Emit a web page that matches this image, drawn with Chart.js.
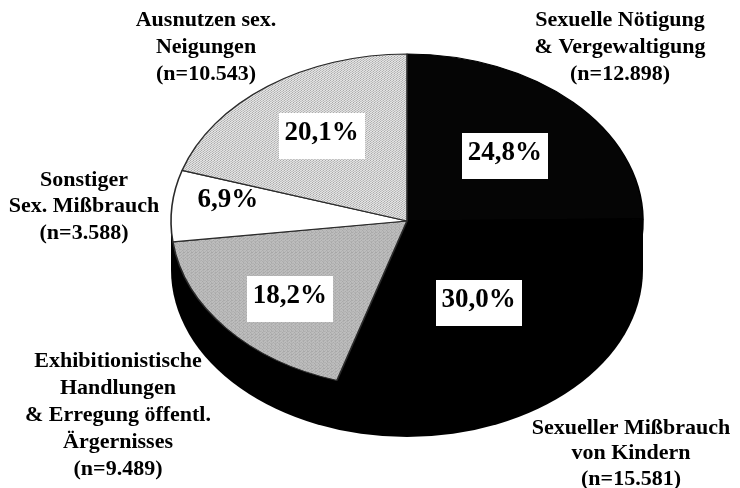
<!DOCTYPE html>
<html>
<head>
<meta charset="utf-8">
<script src="https://cdn.jsdelivr.net/npm/chart.js@4/dist/chart.umd.min.js"></script>
<style>
  html, body { margin: 0; padding: 0; background: #ffffff; }
  #c { display: block; }
</style>
</head>
<body>
<canvas id="c" width="740" height="488"></canvas>
<script>
// ---- data ----
const categories = [
  ['Sexuelle Nötigung', '& Vergewaltigung'],
  ['Sexueller Mißbrauch', 'von Kindern'],
  ['Exhibitionistische', 'Handlungen', '& Erregung öffentl.', 'Ärgernisses'],
  ['Sonstiger', 'Sex. Mißbrauch'],
  ['Ausnutzen sex.', 'Neigungen']
];
const percents = [24.8, 30.0, 18.2, 6.9, 20.1];
const counts = [12898, 15581, 9489, 3588, 10543];

// ---- styles / layout ----
const FONT = '"Liberation Serif", "Times New Roman", "DejaVu Serif", serif';
const CENTER_Y = 221;          // screen y of pie centre
const TILT = 167 / 236;        // vertical squash of the pie face
const DEPTH = 49;              // visible thickness of the 3D side
const RADIUS = 236;
const labelRadius = [0.58, 0.56, 0.67, 0.77, 0.64];
const labelAngleShift = [1, 3.9, -2.2, 4.3, 1.8];   // degrees
const labelBox = [true, true, true, false, true];
const outerLabelPos = [
  { x: 620, y: 20, dy: 27 },
  { x: 631, y: 428, dy: 25.5 },
  { x: 118, y: 361, dy: 27.2 },
  { x: 84,  y: 180, dy: 26.5 },
  { x: 206, y: 20, dy: 27 }
];

function makePattern(bg, fg, size, dots) {
  const p = document.createElement('canvas');
  p.width = size; p.height = size;
  const g = p.getContext('2d');
  g.fillStyle = bg; g.fillRect(0, 0, size, size);
  g.fillStyle = fg;
  dots.forEach(d => g.fillRect(d[0], d[1], 1, 1));
  return document.getElementById('c').getContext('2d').createPattern(p, 'repeat');
}
const dottedFill = makePattern('#e4e4e4', '#a4a4a4', 3, [[0, 0], [2, 1], [1, 2]]);
const greyFill = makePattern('#bdbdbd', '#a6a6a6', 4, [[0, 0], [2, 1], [1, 3], [3, 2], [3, 0]]);

function fmtCount(n) {
  return String(n).replace(/\B(?=(\d{3})+(?!\d))/g, '.');
}

const tiltPlugin = {
  id: 'tilt3d',
  beforeDatasetsDraw(chart) {
    const ctx = chart.ctx;
    const arc = chart.getDatasetMeta(0).data[0];
    if (!arc) return;
    const cx = arc.x, cy = arc.y, r = arc.outerRadius;
    ctx.save();
    ctx.translate(cx, CENTER_Y);
    ctx.scale(1, TILT);
    ctx.translate(-cx, -cy);
    // 3D side of the pie
    const d = DEPTH / TILT;
    ctx.fillStyle = '#000000';
    ctx.beginPath();
    ctx.arc(cx, cy + d, r, 0, Math.PI * 2);
    ctx.fill();
    ctx.fillRect(cx - r, cy, 2 * r, d);
  },
  afterDatasetsDraw(chart) {
    const ctx = chart.ctx;
    ctx.restore();
    const meta = chart.getDatasetMeta(0);
    // percentage labels
    ctx.save();
    ctx.font = 'bold 27px ' + FONT;
    ctx.textAlign = 'center';
    ctx.textBaseline = 'middle';
    meta.data.forEach((a, i) => {
      const mid = (a.startAngle + a.endAngle) / 2 + labelAngleShift[i] * Math.PI / 180;
      const rr = a.outerRadius * labelRadius[i];
      const x = a.x + Math.cos(mid) * rr;
      const y = CENTER_Y + Math.sin(mid) * rr * TILT;
      const txt = percents[i].toFixed(1).replace('.', ',') + '%';
      if (labelBox[i]) {
        const w = ctx.measureText(txt).width + 12;
        ctx.fillStyle = '#ffffff';
        ctx.fillRect(Math.round(x - w / 2), Math.round(y - 20), Math.round(w), 46);
      }
      ctx.fillStyle = '#000000';
      ctx.fillText(txt, x, y);
    });
    // outer category labels
    ctx.font = 'bold 22px ' + FONT;
    categories.forEach((lines, i) => {
      const p = outerLabelPos[i];
      const all = lines.concat(['(n=' + fmtCount(counts[i]) + ')']);
      all.forEach((t, k) => {
        ctx.fillText(t, p.x, p.y + k * p.dy);
      });
    });
    ctx.restore();
  }
};

new Chart(document.getElementById('c'), {
  type: 'pie',
  data: {
    labels: categories.map(l => l.join(' ')),
    datasets: [{
      data: percents,
      backgroundColor: ['#050505', '#000000', greyFill, '#ffffff', dottedFill],
      borderColor: ['#000000', '#000000', '#2a2a2a', '#2a2a2a', '#2a2a2a'],
      borderWidth: 1.6,
      hoverOffset: 0,
      radius: RADIUS
    }]
  },
  options: {
    responsive: false,
    animation: false,
    events: [],
    rotation: 0,
    radius: RADIUS,
    layout: { padding: { left: 74, right: 0, top: 0, bottom: 0 } },
    plugins: {
      legend: { display: false },
      tooltip: { enabled: false },
      title: { display: false }
    }
  },
  plugins: [tiltPlugin]
});
</script>
</body>
</html>
